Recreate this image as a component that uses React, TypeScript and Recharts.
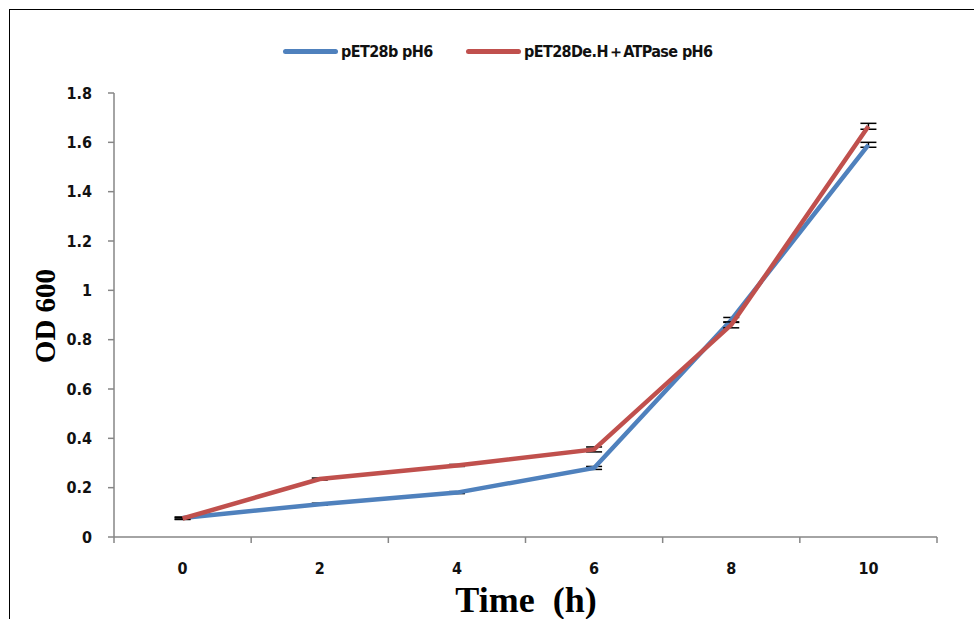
import { LineChart, Line, XAxis, YAxis, ErrorBar, Legend, Label } from "recharts"

const hours = [0, 2, 4, 6, 8, 10]
const controlOD = [0.077, 0.133, 0.18, 0.28, 0.88, 1.59]
const atpaseOD = [0.075, 0.235, 0.29, 0.355, 0.86, 1.665]
const controlErr = [0.004, 0.004, 0.004, 0.006, 0.01, 0.01]
const atpaseErr = [0.004, 0.004, 0.004, 0.01, 0.012, 0.012]
const yTicks = [0, 0.2, 0.4, 0.6, 0.8, 1, 1.2, 1.4, 1.6, 1.8]
const xTicks = [-1, 0, 1, 2, 3, 4, 5, 6, 7, 8, 9, 10, 11]

const BLUE = "#4f81bd"
const RED = "#c0504d"
const AXIS = "#868686"
const tickFont = "'DejaVu Sans Condensed', 'DejaVu Sans', sans-serif"

const data = hours.map((h, i) => ({
  time: h,
  control: controlOD[i],
  controlErr: controlErr[i],
  atpase: atpaseOD[i],
  atpaseErr: atpaseErr[i],
}))

const legendItems = [
  { name: "pET28b pH6", color: BLUE, width: 183 },
  { name: "pET28De.H\uFF0BATPase pH6", color: RED, width: 260 },
]

const LegendContent = () => (
  <div
    style={{
      display: "flex",
      paddingLeft: 283,
      fontFamily: tickFont,
      fontWeight: "bold",
      fontSize: 16,
      letterSpacing: -0.6,
      lineHeight: "21px",
      color: "#111",
    }}
  >
    {legendItems.map((it) => (
      <div key={it.name} style={{ display: "flex", alignItems: "center", width: it.width }}>
        <div
          style={{
            width: 55,
            height: 5,
            borderRadius: 3,
            background: it.color,
            marginRight: 3,
          }}
        />
        <span>{it.name}</span>
      </div>
    ))}
  </div>
)

const XTick = (props: any) => {
  const { x, y, payload } = props
  const v = payload.value
  if (v % 2 !== 0) {
    return <line x1={x} y1={y} x2={x} y2={y + 6} stroke={AXIS} strokeWidth={1.5} />
  }
  return (
    <text
      x={x}
      y={y + 37}
      textAnchor="middle"
      fill="#111"
      fontFamily={tickFont}
      fontWeight="bold"
      fontSize={16}
    >
      {v}
    </text>
  )
}

export default function App() {
  return (
    <div
      style={{
        position: "fixed",
        left: 0,
        top: 0,
        width: 974,
        height: 619,
        overflow: "hidden",
        background: "#fff",
      }}
    >
      <div
        style={{
          position: "absolute",
          left: 9,
          top: 9,
          width: 1000,
          height: 700,
          border: "1px solid #000",
        }}
      />
      <div style={{ position: "absolute", left: 0, top: 0 }}>
        <LineChart
          width={974}
          height={619}
          data={data}
          margin={{ top: 72, right: 37, bottom: 0, left: 0 }}
        >
          <Legend
            verticalAlign="top"
            height={21}
            content={<LegendContent />}
            wrapperStyle={{ top: 41, left: 0, width: 974 }}
          />
          <XAxis
            dataKey="time"
            type="number"
            domain={[-1, 11]}
            ticks={xTicks}
            interval={0}
            height={82}
            tickLine={false}
            tickSize={0}
            tickMargin={0}
            axisLine={{ stroke: AXIS, strokeWidth: 1.5 }}
            tick={<XTick />}
          >
            <Label
              content={() => (
                <text
                  x={526}
                  y={612}
                  textAnchor="middle"
                  fontFamily="'Liberation Serif', 'Times New Roman', serif"
                  fontWeight="bold"
                  fontSize={36}
                  fill="#000"
                  style={{ whiteSpace: "pre" }}
                >
                  {"Time  (h)"}
                </text>
              )}
            />
          </XAxis>
          <YAxis
            type="number"
            domain={[0, 1.8]}
            ticks={yTicks}
            interval={0}
            width={114}
            tickSize={6}
            tickMargin={16}
            axisLine={{ stroke: AXIS, strokeWidth: 1.5 }}
            tickLine={{ stroke: AXIS, strokeWidth: 1.5 }}
            tick={{
              fill: "#111",
              fontFamily: tickFont,
              fontWeight: "bold",
              fontSize: 16,
            }}
          >
            <Label
              content={() => (
                <text
                  x={55}
                  y={316}
                  textAnchor="middle"
                  transform="rotate(-90 55 316)"
                  fontFamily="'Liberation Serif', 'Times New Roman', serif"
                  fontWeight="bold"
                  fontSize={29}
                  fill="#000"
                >
                  OD 600
                </text>
              )}
            />
          </YAxis>
          <Line
            type="linear"
            dataKey="control"
            stroke={BLUE}
            strokeWidth={4.5}
            dot={false}
            activeDot={false}
            isAnimationActive={false}
          >
            <ErrorBar dataKey="controlErr" width={8} stroke="#000" strokeWidth={1.5} direction="y" />
          </Line>
          <Line
            type="linear"
            dataKey="atpase"
            stroke={RED}
            strokeWidth={4.5}
            dot={false}
            activeDot={false}
            isAnimationActive={false}
          >
            <ErrorBar dataKey="atpaseErr" width={8} stroke="#000" strokeWidth={1.5} direction="y" />
          </Line>
        </LineChart>
      </div>
    </div>
  )
}
